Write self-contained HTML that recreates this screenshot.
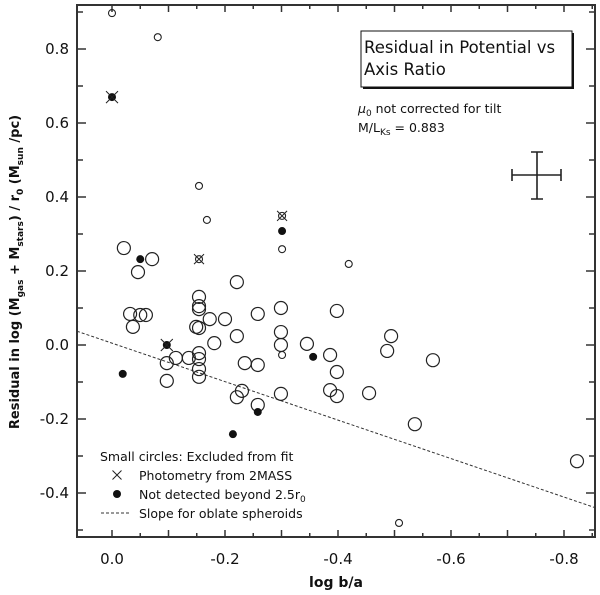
<!DOCTYPE html>
<html><head><meta charset="utf-8"><style>
body{margin:0;background:#fff}
svg{display:block;font-family:"DejaVu Sans","Liberation Sans",sans-serif}
</style></head><body>
<svg id="chart" width="600" height="595" viewBox="0 0 600 595" xmlns="http://www.w3.org/2000/svg"></svg>
<script>
const largeX=[-0.021,-0.046,-0.071,-0.221,-0.032,-0.050,-0.060,-0.037,-0.154,-0.154,-0.154,-0.149,-0.154,-0.173,-0.200,-0.181,-0.221,-0.258,-0.299,-0.299,-0.299,-0.345,-0.398,-0.154,-0.154,-0.154,-0.154,-0.113,-0.136,-0.097,-0.097,-0.235,-0.258,-0.230,-0.221,-0.258,-0.299,-0.386,-0.398,-0.386,-0.398,-0.494,-0.487,-0.568,-0.455,-0.536,-0.823];
const largeY=[0.262,0.197,0.232,0.170,0.084,0.081,0.081,0.049,0.130,0.105,0.097,0.049,0.046,0.070,0.070,0.005,0.024,0.084,0.100,0.035,0.000,0.003,0.092,-0.022,-0.038,-0.065,-0.086,-0.035,-0.035,-0.049,-0.097,-0.049,-0.054,-0.124,-0.141,-0.162,-0.132,-0.027,-0.073,-0.122,-0.138,0.024,-0.016,-0.041,-0.130,-0.214,-0.314];
const smallX=[0,-0.081,-0.154,-0.168,-0.301,-0.419,-0.301,-0.508,-0.154,-0.301];
const smallY=[0.897,0.832,0.430,0.338,0.259,0.219,-0.027,-0.481,0.232,0.349];
const smallCross=[0,0,0,0,0,0,0,0,1,1];
const filledX=[0,-0.050,-0.301,-0.097,-0.019,-0.356,-0.258,-0.214];
const filledY=[0.670,0.232,0.308,0,-0.078,-0.032,-0.181,-0.241];
const filledCross=[1,0,0,1,0,0,0,0];
const slopeIntercept=0.005, slopeValue=0.52;
const xTickLabels=["0.0","-0.2","-0.4","-0.6","-0.8"];
const xTickValues=[0,-0.2,-0.4,-0.6,-0.8];
const yTickLabels=["0.8","0.6","0.4","0.2","0.0","-0.2","-0.4"];
const yTickValues=[0.8,0.6,0.4,0.2,0,-0.2,-0.4];

const L=77,R=595,T=5,B=537;
const sx=v=>112-v*565;
const sy=v=>345-v*370;
const svg=document.getElementById('chart');
const NS='http://www.w3.org/2000/svg';
function mk(tag,attrs,parent){const e=document.createElementNS(NS,tag);for(const k in attrs)e.setAttribute(k,attrs[k]);(parent||svg).appendChild(e);return e;}

const frame=mk('rect',{x:L,y:T,width:R-L,height:B-T,fill:'none',stroke:'#333','stroke-width':2});



for(let i=0;i<=17;i++){const v=-0.05*i;const px=sx(v);if(px<L+2||px>R-2)continue;const len=(i%2===0)?7:4;
 const t1=mk('line',{x1:px,y1:B,x2:px,y2:B-len,stroke:'#333','stroke-width':1.5});
 
 
 const t2=mk('line',{x1:px,y1:T,x2:px,y2:T+len,stroke:'#333','stroke-width':1.5});
 
 }
for(let i=-5;i<=9;i++){const v=0.1*i;const py=sy(v);if(py<T+2||py>B-2)continue;const len=(i%2===0)?9:6;
 const t1=mk('line',{x1:L,y1:py,x2:L+len,y2:py,stroke:'#333','stroke-width':1.5});
 
 
 const t2=mk('line',{x1:R,y1:py,x2:R-len,y2:py,stroke:'#333','stroke-width':1.5});
 
 }
xTickValues.forEach((v,i)=>{const t=mk('text',{x:sx(v),y:564,'text-anchor':'middle','font-size':15,fill:'#111'});t.textContent=xTickLabels[i];
 
 });
yTickValues.forEach((v,i)=>{const t=mk('text',{x:69,y:sy(v)+5,'text-anchor':'end','font-size':15,fill:'#111'});t.textContent=yTickLabels[i];
 
 });

const xt=mk('text',{x:336,y:587,'text-anchor':'middle','font-size':14,'font-weight':'bold',fill:'#111'});xt.textContent='log b/a';


const yt=mk('text',{x:0,y:0,'text-anchor':'middle','font-size':13,'font-weight':'bold',fill:'#111',transform:'translate(19,272) rotate(-90)'});
yt.innerHTML='Residual in log (M<tspan font-size="9" dy="4">gas</tspan><tspan dy="-4"> + M</tspan><tspan font-size="9" dy="4">stars</tspan><tspan dy="-4">) / r</tspan><tspan font-size="9" dy="4">0</tspan><tspan dy="-4">  (M</tspan><tspan font-size="9" dy="4">sun</tspan><tspan dy="-4"> /pc)</tspan>';



const sl=mk('line',{x1:L,y1:sy(slopeIntercept+slopeValue*((112-L)/565)),x2:R,y2:sy(slopeIntercept+slopeValue*(-(R-112)/565)),stroke:'#333','stroke-width':1,'stroke-dasharray':'3,2'});



function cross(x,y,s){const a=mk('path',{d:`M${x-s},${y-s}L${x+s},${y+s}M${x-s},${y+s}L${x+s},${y-s}`,stroke:'#222','stroke-width':1,fill:'none'});
 
 }
largeX.forEach((v,i)=>{const c=mk('circle',{cx:sx(v),cy:sy(largeY[i]),r:6.5,fill:'none',stroke:'#222','stroke-width':1.2});
 
 });
smallX.forEach((v,i)=>{const c=mk('circle',{cx:sx(v),cy:sy(smallY[i]),r:3.5,fill:'none',stroke:'#222','stroke-width':1.1});
 
 
 if(smallCross[i])cross(sx(v),sy(smallY[i]),5);});
filledX.forEach((v,i)=>{const c=mk('circle',{cx:sx(v),cy:sy(filledY[i]),r:4,fill:'#111'});
 
 
 if(filledCross[i])cross(sx(v),sy(filledY[i]),6);});

const eb=mk('path',{d:'M512,175H561M512,169V181M561,169V181M537,152V199M531,152H543M531,199H543',stroke:'#222','stroke-width':1.6,fill:'none'});



const sh=mk('rect',{x:363,y:33,width:211,height:56,fill:'#111'});


const tb=mk('rect',{x:361,y:31,width:211,height:56,fill:'#fff',stroke:'#111','stroke-width':1});


const tt=mk('text',{x:364,y:53,'font-size':16.5,fill:'#111'});tt.innerHTML='<tspan x="364">Residual in Potential vs</tspan><tspan x="364" dy="22">Axis Ratio</tspan>';


const n1=mk('text',{x:358,y:113,'font-size':12.5,fill:'#111'});n1.innerHTML='<tspan font-style="italic">μ</tspan><tspan font-size="9" dy="3">0</tspan><tspan dy="-3"> not corrected for tilt</tspan>';


const n2=mk('text',{x:358,y:132,'font-size':12.5,fill:'#111'});n2.innerHTML='M/L<tspan font-size="9" dy="3">Ks</tspan><tspan dy="-3"> = 0.883</tspan>';



const lg=mk('g',{});


const l1=mk('text',{x:100,y:461,'font-size':12.5,fill:'#111'},lg);l1.textContent='Small circles:  Excluded from fit';


cross(117,475,4.5);
const l2=mk('text',{x:139,y:480,'font-size':12.5,fill:'#111'},lg);l2.textContent='Photometry from 2MASS';


mk('circle',{cx:117,cy:494,r:4,fill:'#111'},lg);
const l3=mk('text',{x:139,y:499,'font-size':12.5,fill:'#111'},lg);l3.innerHTML='Not detected beyond 2.5r<tspan font-size="9" dy="3">0</tspan>';


mk('line',{x1:101,y1:513,x2:130,y2:513,stroke:'#333','stroke-width':1,'stroke-dasharray':'3,2'},lg);
const l4=mk('text',{x:139,y:518,'font-size':12.5,fill:'#111'},lg);l4.textContent='Slope for oblate spheroids';


</script>
</body></html>
